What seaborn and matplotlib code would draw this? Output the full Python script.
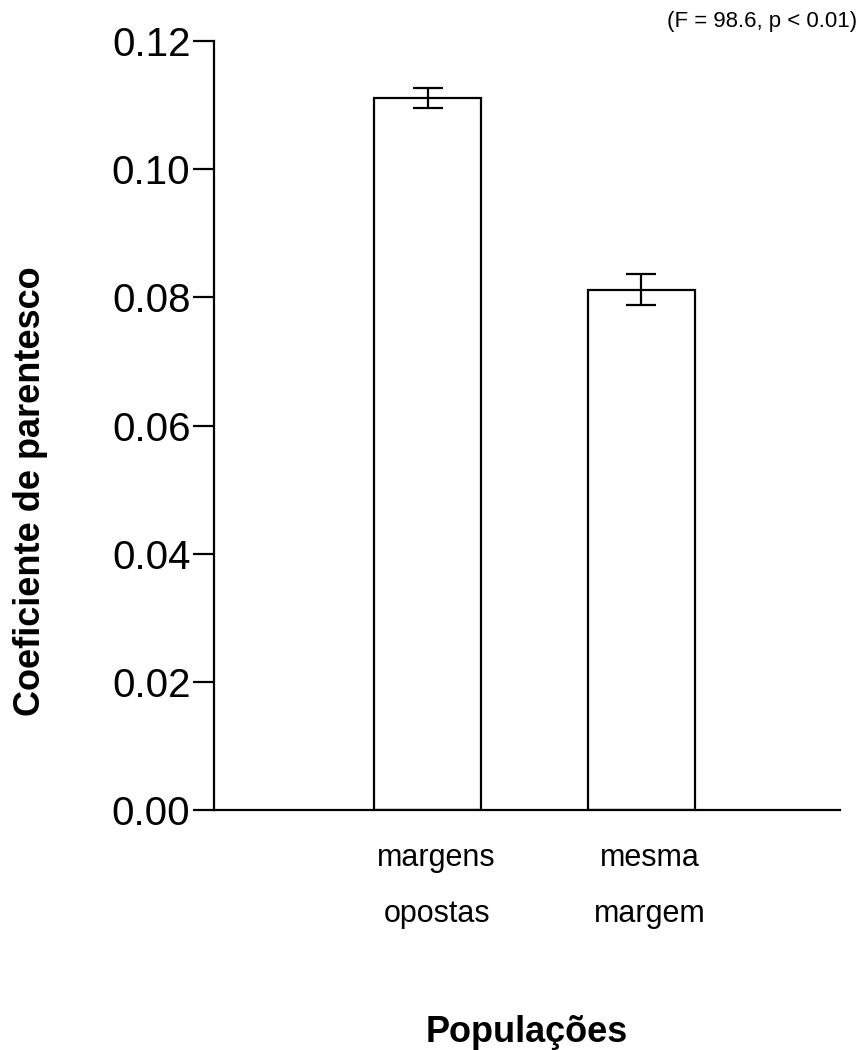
import matplotlib
matplotlib.use("Agg")
import matplotlib.pyplot as plt
import matplotlib.transforms as mtransforms
import seaborn as sns
import pandas as pd

# dados
grupos = ["margens\nopostas", "mesma\nmargem"]
medias = [0.1111, 0.0812]
erros = [0.0015, 0.0024]

sns.set_style("white")
plt.rcParams['font.family'] = ['Liberation Sans', 'DejaVu Sans']
plt.rcParams['text.color'] = 'black'
plt.rcParams['axes.labelcolor'] = 'black'
plt.rcParams['xtick.color'] = 'black'
plt.rcParams['ytick.color'] = 'black'

df = pd.DataFrame({"grupo": grupos, "coef": medias})

fig = plt.figure(figsize=(8.62, 10.5), dpi=100)
ax = fig.add_axes([214 / 862, 1 - 810 / 1050, (840 - 214) / 862, (810 - 41) / 1050])

sns.barplot(data=df, x="grupo", y="coef", color="white", edgecolor="black",
            linewidth=1.6, width=0.5, errorbar=None, ax=ax)
ax.errorbar(range(len(grupos)), medias, yerr=erros, fmt="none", ecolor="black",
            elinewidth=1.6, capsize=10.5, capthick=1.6)

ax.set_xlim(-1.0, 1.93)
ax.set_ylim(0, 0.12)
ax.set_yticks([0.0, 0.02, 0.04, 0.06, 0.08, 0.10, 0.12])
ax.set_yticklabels(["0.00", "0.02", "0.04", "0.06", "0.08", "0.10", "0.12"])

for s in ["top", "right"]:
    ax.spines[s].set_visible(False)
for s in ["left", "bottom"]:
    ax.spines[s].set_color("black")
    ax.spines[s].set_linewidth(1.6)

ax.tick_params(axis="y", direction="out", length=15, width=1.6, pad=2,
               labelsize=29, left=True, color="black")
ax.tick_params(axis="x", length=0, pad=24, labelsize=22)
desloc = mtransforms.ScaledTranslation(9 / 100, 0, fig.dpi_scale_trans)
for lbl in ax.get_xticklabels():
    lbl.set_linespacing(2.1)
    lbl.set_transform(lbl.get_transform() + desloc)

ax.set_xlabel("Populações", fontsize=26, fontweight="bold", labelpad=62)
ax.set_ylabel("Coeficiente de parentesco", fontsize=26, fontweight="bold")
ax.yaxis.set_label_coords(-0.265, 0.414)

fig.text(857 / 862, 1 - 22 / 1050, "(F = 98.6, p < 0.01)", fontsize=16,
         ha="right", va="center")

fig.savefig("out.png", dpi=100)
